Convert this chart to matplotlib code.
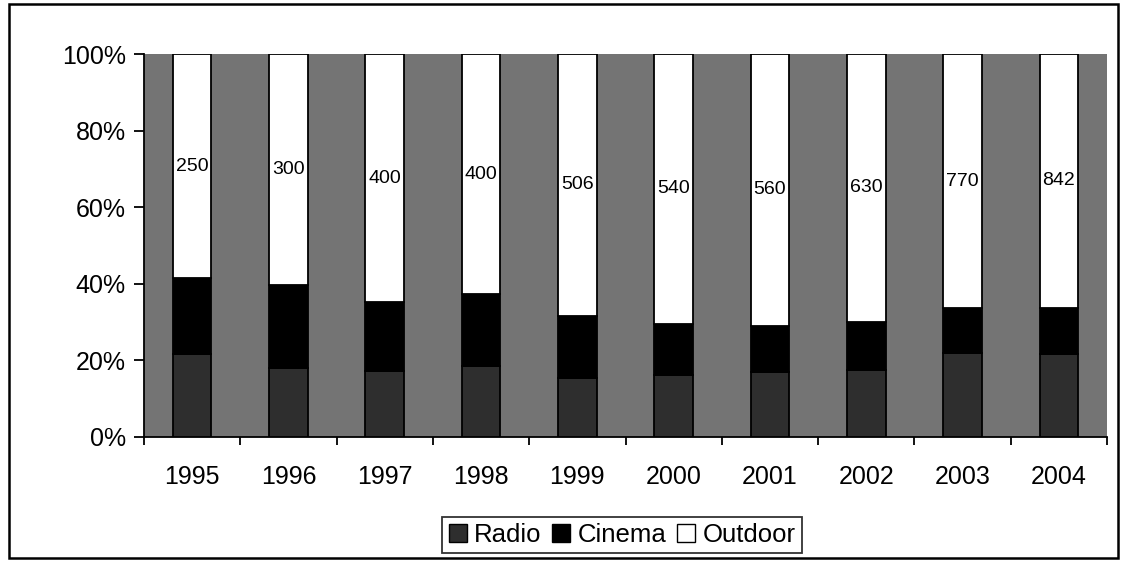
import matplotlib
matplotlib.use("Agg")
import matplotlib.pyplot as plt
from matplotlib.patches import Rectangle, Patch
import numpy as np

years = ["1995", "1996", "1997", "1998", "1999", "2000", "2001", "2002", "2003", "2004"]
radio = [92, 89, 107, 119, 114, 125, 133, 157, 255, 275]
cinema = [85, 108, 110, 119, 120, 102, 96, 114, 135, 155]
outdoor = [250, 300, 400, 400, 506, 540, 560, 630, 770, 842]
series_names = ["Radio", "Cinema", "Outdoor"]
yticks = [0, 20, 40, 60, 80, 100]
ytick_labels = ["0%", "20%", "40%", "60%", "80%", "100%"]

plt.rcParams['font.family'] = ['Liberation Sans', 'DejaVu Sans']

W, H = 1126, 573
fig = plt.figure(figsize=(W / 100, H / 100), dpi=100)
fig.patch.set_facecolor("white")

# outer chart frame
fig.add_artist(Rectangle((9 / W, 1 - 558 / H), (1118 - 9) / W, (558 - 4) / H,
                         transform=fig.transFigure, fill=False, edgecolor="black", lw=1.8))

ax = fig.add_axes([144 / W, 1 - 437 / H, (1107 - 144) / W, (437 - 54) / H])
ax.set_facecolor("#747474")

r = np.array(radio, float)
c = np.array(cinema, float)
o = np.array(outdoor, float)
tot = r + c + o
rp, cp, op = 100 * r / tot, 100 * c / tot, 100 * o / tot

x = np.arange(len(years))
w = 0.4
ax.bar(x, rp, w, color="#2e2e2e", edgecolor="black", lw=1.3, zorder=3)
ax.bar(x, cp, w, bottom=rp, color="black", edgecolor="black", lw=1.3, zorder=3)
ax.bar(x, op, w, bottom=rp + cp, color="white", edgecolor="black", lw=1.3, zorder=3)

for i in range(len(years)):
    ax.text(x[i], rp[i] + cp[i] + op[i] / 2, str(outdoor[i]), ha="center", va="center",
            fontsize=14, color="black", zorder=4)

ax.set_xlim(-0.5, len(years) - 0.5)
ax.set_ylim(0, 100)
ax.set_yticks(yticks)
ax.set_yticklabels(ytick_labels, fontsize=18)
ax.set_xticks(x)
ax.set_xticklabels(years, fontsize=18)
ax.tick_params(axis="x", length=0, pad=20)
ax.set_xticks(np.arange(len(years) + 1) - 0.5, minor=True)
ax.tick_params(axis="x", which="minor", length=6, direction="out", width=1.3)
ax.tick_params(axis="y", length=7, width=1.3, direction="out", pad=6)
for s in ["top", "right"]:
    ax.spines[s].set_visible(False)
for s in ["left", "bottom"]:
    ax.spines[s].set_linewidth(1.3)

handles = [Patch(facecolor="#2e2e2e", edgecolor="black"),
           Patch(facecolor="black", edgecolor="black"),
           Patch(facecolor="white", edgecolor="black")]
leg = fig.legend(handles, series_names, loc="center", bbox_to_anchor=(622 / W, 1 - 535 / H),
                 ncol=3, fontsize=18.5, frameon=True, fancybox=False, handlelength=0.7,
                 handleheight=0.7, handletextpad=0.3, columnspacing=0.4,
                 borderpad=0.25, borderaxespad=0)
leg.get_frame().set_edgecolor("black")
leg.get_frame().set_linewidth(1.3)

fig.savefig("out.png", dpi=100)
